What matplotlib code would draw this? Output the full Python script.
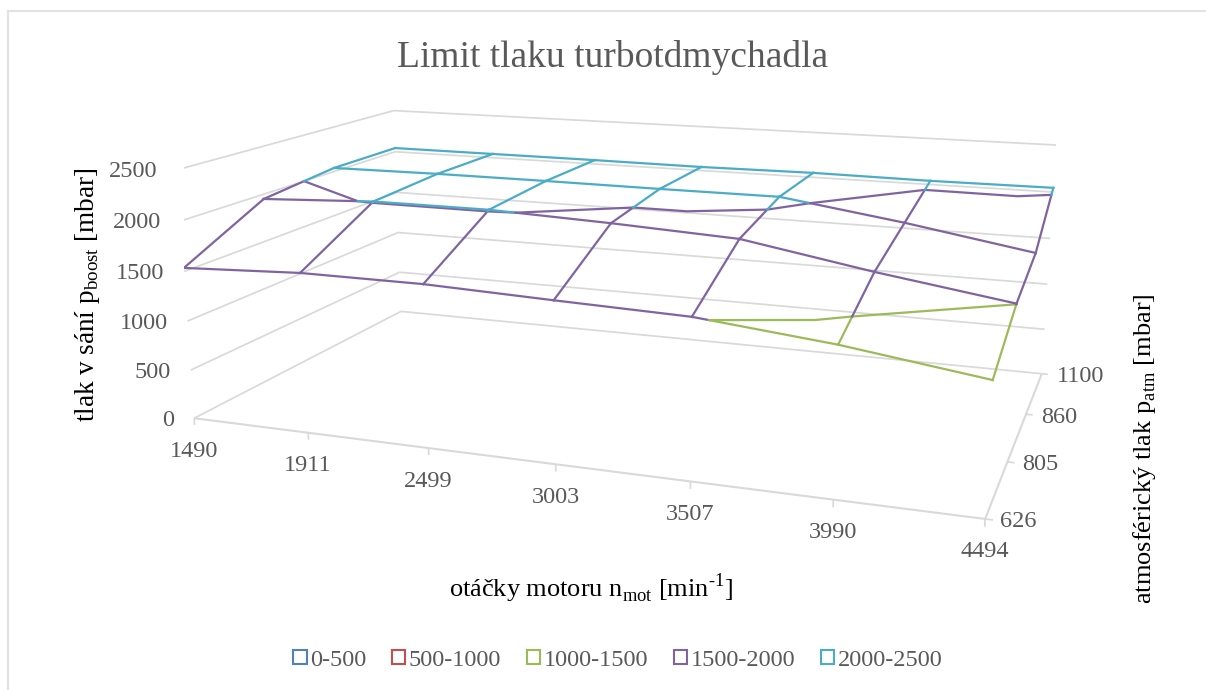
import numpy as np
import matplotlib
matplotlib.use("Agg")
import matplotlib.pyplot as plt
import matplotlib.tri as mtri
from matplotlib.lines import Line2D
from matplotlib.patches import Patch
from mpl_toolkits.mplot3d import proj3d

plt.rcParams['font.family'] = ['Liberation Serif', 'DejaVu Serif']
plt.rcParams['mathtext.fontset'] = 'custom'
plt.rcParams['mathtext.rm'] = 'Liberation Serif'

otacky = ['1490', '1911', '2499', '3003', '3507', '3990', '4494']
atm = ['626', '805', '860', '1100']
z_ticks = [0, 500, 1000, 1500, 2000, 2500]

# tlak v sani, radky = atmosfericky tlak
p_626 = [1535, 1590, 1590, 1550, 1515, 1390, 1215]
p_805 = [1950, 2008, 2010, 1965, 1905, 1690, 1503]
p_860 = [2040, 2050, 2050, 2045, 2045, 1865, 1655]
p_1100 = [2045, 2045, 2045, 2040, 2050, 2040, 2045]

pasma = ['0-500', '500-1000', '1000-1500', '1500-2000', '2000-2500']
barvy = ['#4F81BD', '#C0504D', '#9BBB59', '#8064A2', '#4BACC6']

W, H = 1206, 690
GRID = '#D9D9D9'
TXT = '#595959'

# kamera nafitovana na rohy grafu
ELEV, AZIM, FOCAL = 13.7608, -70.2955, 0.3404
BOX = (3.1058, 1.7485, 1)
CX, CY, SCALE = 636.29, 278.07, 4761.67

Z = np.array([p_626, p_805, p_860, p_1100], dtype=float)
nx, ny = Z.shape[1], Z.shape[0]
X, Y = np.meshgrid(np.arange(nx), np.arange(ny))

fig = plt.figure(figsize=(W / 100, H / 100), dpi=100)
ax = fig.add_axes([0, 0, 1, 1], projection='3d')
ax.computed_zorder = False
ax.set_axis_off()
ax.patch.set_visible(False)
ax.view_init(elev=ELEV, azim=AZIM)
ax.set_proj_type('persp', focal_length=FOCAL)
ax.set_box_aspect(BOX)

vx = ax.viewLim.intervalx
vy = ax.viewLim.intervaly
left = CX + SCALE * vx[0]
bottom = CY - SCALE * vy[0]
ax.set_position([left / W, 1 - bottom / H, SCALE * (vx[1] - vx[0]) / W, SCALE * (vy[1] - vy[0]) / H])


def grid_line(xs, ys, zs, lw=1.25):
    ax.plot(xs, ys, zs, color=GRID, lw=lw, zorder=1, solid_capstyle='butt')


xm, ym = nx - 1, ny - 1
# steny a podlaha
for z in z_ticks:
    grid_line([0, 0], [0, ym], [z, z])
    grid_line([0, xm], [ym, ym], [z, z])
grid_line([0, xm], [0, 0], [0, 0], 1.5)
grid_line([xm, xm], [0, ym], [0, 0], 1.5)
for i in range(nx):
    grid_line([i, i], [0, 0], [0, -70])
for j in range(ny):
    grid_line([xm, xm + 0.05], [j, j], [0, 0])

levels = [500, 1000, 1500, 2000, 2500]


def band_color(z):
    for lev, c in zip(levels, barvy):
        if z <= lev:
            return c
    return barvy[-1]


def draw_edge(x0, y0, z0, x1, y1, z1):
    ts = [0.0, 1.0]
    for lev in levels:
        if (z0 - lev) * (z1 - lev) < 0:
            ts.append((lev - z0) / (z1 - z0))
    ts.sort()
    for a, b in zip(ts[:-1], ts[1:]):
        xs = [x0 + a * (x1 - x0), x0 + b * (x1 - x0)]
        ys = [y0 + a * (y1 - y0), y0 + b * (y1 - y0)]
        zs = [z0 + a * (z1 - z0), z0 + b * (z1 - z0)]
        ax.plot(xs, ys, zs, color=band_color(0.5 * (zs[0] + zs[1])), lw=1.6, zorder=3)


for j in range(ny):
    for i in range(nx - 1):
        draw_edge(i, j, Z[j, i], i + 1, j, Z[j, i + 1])
for i in range(nx):
    for j in range(ny - 1):
        draw_edge(i, j, Z[j, i], i, j + 1, Z[j + 1, i])

# vrstevnice, bunky deli uhlopricka jako v Excelu
druha_uhlopricka = [(0, 1), (4, 0)]
tris = []
for j in range(ny - 1):
    for i in range(nx - 1):
        a, b = j * nx + i, j * nx + i + 1
        c, d = (j + 1) * nx + i, (j + 1) * nx + i + 1
        if (i, j) in druha_uhlopricka:
            tris += [[a, b, c], [b, d, c]]
        else:
            tris += [[a, b, d], [a, d, c]]
tr = mtri.Triangulation(X.ravel().astype(float), Y.ravel().astype(float), tris)
ax.tricontour(tr, Z.ravel(), levels=[1500, 2000], colors=[barvy[2], barvy[3]], linewidths=1.6, zorder=2)

ax.set_xlim(0, xm, view_margin=0)
ax.set_ylim(0, ym, view_margin=0)
ax.set_zlim(0, 2500, view_margin=0)


def fig_xy(x, y, z):
    # pixel v obrazku pro bod 3D grafu
    a, b, _ = proj3d.proj_transform(x, y, z, ax.get_proj())
    return CX + SCALE * a, CY - SCALE * b


def label(x, y, z, s, dx, dy, ha):
    px, py = fig_xy(x, y, z)
    fig.text((px + dx) / W, 1 - (py + dy) / H, s, ha=ha, va='center', color=TXT, fontsize=17.5)


for i, s in enumerate(otacky):
    label(i, 0, 0, s, 0, 33, 'center')
for j, s in enumerate(atm):
    label(xm, j, 0, s, 15, 3, 'left')
for z in z_ticks:
    label(0, 0, z, str(z), -20, 2, 'right')

fig.text(613 / W, 1 - 57.5 / H, 'Limit tlaku turbotdmychadla', ha='center', va='center', color=TXT, fontsize=27)
fig.text(591 / W, 1 - 588 / H, r'otáčky motoru n$_{\mathregular{mot}}$ [min$^{\text{-1}}$]',
         ha='center', va='center', color='black', fontsize=19)
fig.text(88 / W, 1 - 295 / H, r'tlak v sání p$_{\mathregular{boost}}$ [mbar]', rotation=90,
         ha='center', va='center', color='black', fontsize=19.5)
fig.text(1145 / W, 1 - 449 / H, r'atmosférický tlak p$_{\mathregular{atm}}$ [mbar]', rotation=90,
         ha='center', va='center', color='black', fontsize=19)

handles = [Patch(facecolor='none', edgecolor=c, lw=1.5, label=s) for c, s in zip(barvy, pasma)]
fig.legend(handles=handles, loc='center', bbox_to_anchor=(618 / W, 1 - 660 / H), ncol=5, frameon=False,
           fontsize=17.5, labelcolor=TXT, handlelength=0.55, handleheight=0.55, handletextpad=0.15,
           columnspacing=1.05)

# ramecek grafu
fig.add_artist(Line2D([7.5 / W, 7.5 / W], [0, 1 - 11 / H], color='#E2E2E2', lw=1.5))
fig.add_artist(Line2D([7.5 / W, 1], [1 - 11 / H, 1 - 11 / H], color='#E2E2E2', lw=1.5))

fig.savefig("out.png", dpi=100)
